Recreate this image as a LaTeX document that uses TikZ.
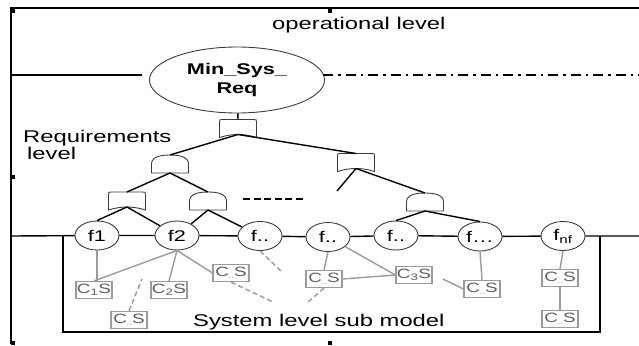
\documentclass[tikz,border=0pt]{standalone}
\usepackage{fontspec}
\setmainfont{Liberation Sans}[FakeStretch=1.4]
\usetikzlibrary{shapes.geometric}
\definecolor{cgray}{HTML}{9A9A9A}
\definecolor{ctext}{HTML}{5E5E5E}
\definecolor{gline}{HTML}{3C3C3C}
\newcommand{\csub}[1]{C\textsubscript{#1}S}
\newcommand{\cdd}{C\textsubscript{\fontsize{6}{6}\selectfont..}S}
\tikzset{
  gatestyle/.style={draw=gline, line width=0.9pt, fill=white},
  orgate/.pic={
    \draw[gatestyle] (-18.5,9) -- (-18.5,-6) .. controls (-18.5,-9) .. (-15.5,-9) -- (15.5,-9) .. controls (18.5,-9) .. (18.5,-6) -- (18.5,9) .. controls (6,5) and (-6,5) .. (-18.5,9) -- cycle;
    \coordinate (-top) at (0,-9);
    \coordinate (-bot) at (0,6);
  },
  andgate/.pic={
    \draw[gatestyle] (-18.5,9) -- (-18.5,0) .. controls (-18.5,-7) and (-10,-9) .. (0,-9) .. controls (10,-9) and (18.5,-7) .. (18.5,0) -- (18.5,9) -- cycle;
    \coordinate (-top) at (0,-9);
    \coordinate (-bot) at (0,9);
  }
}
\begin{document}
\begin{tikzpicture}[x=1pt,y=-1pt,
  fnode/.style={ellipse, draw=gline, line width=0.9pt, fill=white, minimum width=44pt, minimum height=29pt, inner sep=0pt, font=\fontsize{15.5}{17}\selectfont},
  comp/.style={draw=cgray, line width=1.2pt, fill=white, minimum width=36pt, minimum height=17pt, inner sep=0pt, text=ctext, font=\fontsize{13.5}{14}\selectfont},
  tree/.style={line width=1.4pt, black},
  cline/.style={line width=1.4pt, cgray},
  cdash/.style={line width=1.4pt, cgray, dash pattern=on 5pt off 3pt},
  lbl/.style={font=\fontsize{17}{17}\selectfont, inner sep=0pt},
  hmark/.style={fill=black, minimum size=4pt, inner sep=0pt}
]
\useasboundingbox (0,0) rectangle (639,345);

% frame
\coordinate (tl) at (11,8);
\coordinate (tr) at (639,8);
\coordinate (bl) at (11,344);
\draw[line width=1.5pt] (tr) -- (tl) -- (bl);
\node[hmark] (m1) at (13,11) {};
\node[hmark] (m2) at (13,177) {};
\node[hmark] (m3) at (13,343) {};
\node[hmark] (m4) at (330,11) {};
\node[hmark] (m5) at (330,343) {};

% labels
\node[lbl, anchor=base west] (oplev) at (272,29.5) {operational level};
\node[lbl, anchor=base west] (req1) at (23,142) {Requirements};
\node[lbl, anchor=base west] (req2) at (27,159.5) {level};
\node[lbl, anchor=base west] (sysl) at (193,326) {System level sub model};

% top event
\node[ellipse, draw=gline, line width=0.9pt, minimum width=175pt, minimum height=66pt, inner sep=0pt, font=\bfseries\fontsize{15.5}{19}\selectfont] (req) at (237,80) {\raisebox{-5pt}{\begin{tabular}{@{}c@{}}Min\_Sys\_\\Req\end{tabular}}};
\coordinate (oL) at (11,75);
\coordinate (oLe) at (142,75);
\coordinate (oRs) at (323,75);
\coordinate (oR) at (639,75);
\draw[tree] (oL) -- (oLe);
\draw[tree, dash pattern=on 10pt off 5pt on 2.5pt off 5pt] (oRs) -- (oR);

% gates
\pic (g0) at (238,128.5) {orgate};
\pic (g1) at (170,164) {andgate};
\pic (g2) at (356,162.5) {orgate};
\pic (g3) at (127,201) {orgate};
\pic (g4) at (208,201) {andgate};
\pic (g5) at (425,202) {andgate};

% function nodes
\node[fnode] (f1) at (97,235.5) {f1};
\node[fnode] (f2) at (177,235.5) {f2};
\node[fnode] (f3) at (260,236) {f..};
\node[fnode] (f4) at (328,237) {f..};
\node[fnode] (f5) at (396,235.5) {f..};
\node[fnode] (f6) at (480,236.5) {f…};
\node[fnode] (fnf) at (563,236) {f\textsubscript{nf}};

% tree connectors
\draw[tree] (req) -- (g0-top);
\draw[tree] (g0-bot) -- (g1-top);
\draw[tree] (g0-bot) -- (g2-top);
\draw[tree] (g1-bot) -- (g3-top);
\draw[tree] (g1-bot) -- (g4-top);
\coordinate (tx) at (337,191);
\draw[tree] (g2-bot) -- (tx);
\draw[tree] (g2-bot) -- (g5-top);
\draw[tree] (g3-bot) -- (f1.north);
\draw[tree] (g3-bot) -- (f2);
\draw[tree] (g4-bot) -- (f2);
\draw[tree] (g4-bot) -- (f3);
\draw[tree] (g5-bot) -- (f5.north);
\draw[tree] (g5-bot) -- (f6.north);
\coordinate (dsa) at (243,199);
\coordinate (dsb) at (304,199);
\draw[tree, dash pattern=on 7pt off 3.5pt] (dsa) -- (dsb);

% function line
\coordinate (fL) at (12,236);
\coordinate (fR) at (639,236);
\draw[tree] (fL) -- (f1) -- (f2) -- (f3) -- (f4) -- (f5) -- (f6) -- (fnf) -- (fR);

% sub model box
\coordinate (bxa) at (63,236);
\coordinate (bxb) at (63,332);
\coordinate (bxc) at (600,332);
\coordinate (bxd) at (600,236);
\draw[line width=2pt] (bxa) -- (bxb) -- (bxc) -- (bxd);

% components
\node[comp] (c1) at (94,290) {\csub{1}};
\node[comp] (c2) at (169,290) {\csub{2}};
\node[comp] (c7) at (129,320) {\cdd};
\node[comp] (c8) at (231,273) {\cdd};
\node[comp] (c4) at (324,279) {\cdd};
\node[comp] (c3) at (414,275) {\csub{3}};
\node[comp] (c5) at (482,289) {\cdd};
\node[comp] (c6) at (560,278) {\cdd};
\node[comp] (c9) at (560,319) {\cdd};

% component connectors
\draw[cline] (f1.south) -- (c1.north -| f1.south);
\draw[cline] (f2.south) -- (c1.north);
\draw[cline] (f2.south) -- (c2.north);
\draw[cline] (f2.south) -- (c8.west);
\draw[cline] (f4.south) -- (c4.north);
\draw[cline] (f4) -- (c3.west);
\draw[cline] (c4.east) -- (c3.west);
\coordinate (s1) at (443,279);
\draw[cline] (s1) -- (c5.west);
\draw[cline] (f6.south) -- (c5.north);
\draw[cline] (fnf.south) -- (c6.north);
\draw[cline] (c6) -- (c9);

% dashed component connectors
\coordinate (d1) at (142,279);
\coordinate (d2) at (273,302);
\coordinate (d3) at (281,271);
\coordinate (d4) at (307,303);
\draw[cdash] (c7.north) -- (d1);
\draw[cdash] (c8.south) -- (d2);
\draw[cdash] (f3.south) -- (d3);
\draw[cdash] (c4.south) -- (d4);
\end{tikzpicture}
\end{document}
